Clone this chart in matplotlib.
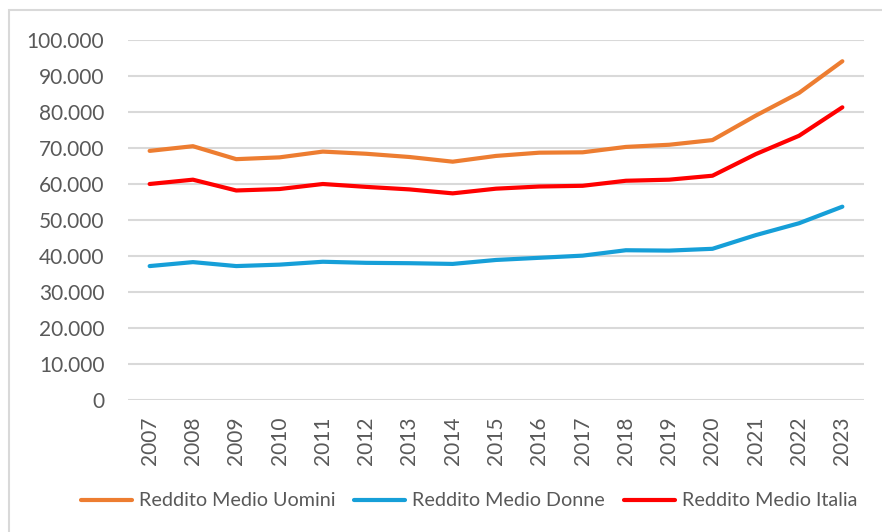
import matplotlib
matplotlib.use("Agg")
import matplotlib.pyplot as plt
from matplotlib.patches import Rectangle
from matplotlib.ticker import FuncFormatter, MultipleLocator

years = [str(y) for y in range(2007, 2024)]
uomini = [69200, 70500, 66900, 67400, 69000, 68400, 67500, 66200, 67800, 68700, 68800, 70300, 70900, 72200, 79000, 85300, 94100]
donne = [37200, 38300, 37200, 37600, 38400, 38100, 38000, 37800, 38900, 39500, 40100, 41600, 41500, 42000, 45800, 49100, 53700]
italia = [60000, 61200, 58200, 58600, 60000, 59200, 58500, 57400, 58700, 59300, 59500, 60900, 61200, 62300, 68300, 73400, 81300]

series_names = ["Reddito Medio Uomini", "Reddito Medio Donne", "Reddito Medio Italia"]
colors = ["#ED7D31", "#169FD8", "#FF0000"]

plt.rcParams['font.family'] = ['Lato', 'DejaVu Sans']
W, H = 882, 532
fig = plt.figure(figsize=(W / 100, H / 100), dpi=100)

# outer chart frame (cropped at right/bottom)
fig.patches.append(Rectangle((9 / W, -0.1), 1.2, 1 - 10 / H + 0.1, transform=fig.transFigure,
                             fill=False, edgecolor="#D9D9D9", linewidth=1.5))

ax = fig.add_axes([128 / W, 1 - 400 / H, (864 - 128) / W, 360 / H])
x = list(range(len(years)))
for vals, name, c in zip([uomini, donne, italia], series_names, colors):
    ax.plot(x, vals, color=c, lw=3.0, label=name, solid_capstyle='round', solid_joinstyle='round')

ax.set_xlim(-0.5, len(years) - 0.5)
ax.set_ylim(0, 100000)
ax.yaxis.set_major_locator(MultipleLocator(10000))
ax.yaxis.set_major_formatter(FuncFormatter(lambda v, p: f"{int(v):,}".replace(",", ".")))
ax.set_xticks(x)
ax.set_xticklabels(years, rotation=90)
ax.grid(axis='y', color="#D9D9D9", lw=1.5)
ax.set_axisbelow(True)
for s in ax.spines.values():
    s.set_visible(False)
ax.tick_params(axis='y', length=0, pad=17, labelsize=15, labelcolor="#595959")
ax.tick_params(axis='x', length=0, pad=12, labelsize=15, labelcolor="#595959")

handles, labels = ax.get_legend_handles_labels()
fig.legend(handles, labels, loc='center', bbox_to_anchor=(469 / W, 1 - 501 / H), ncol=3, frameon=False,
           fontsize=14.2, labelcolor="#595959", handlelength=2.6, handletextpad=0.35, columnspacing=0.95)

fig.savefig("out.png", dpi=100)
